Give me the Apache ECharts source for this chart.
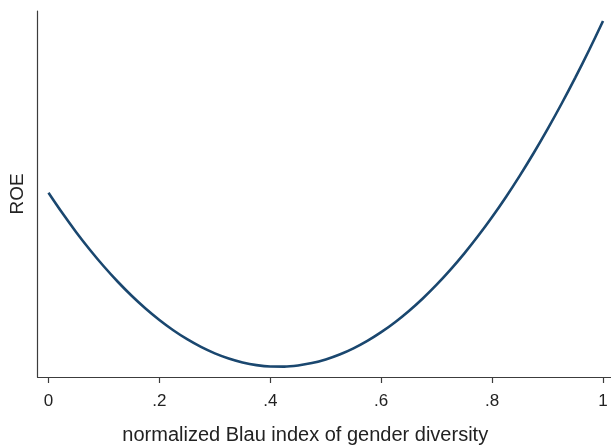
<!DOCTYPE html>
<html>
<head>
<meta charset="utf-8">
<script src="https://cdn.jsdelivr.net/npm/echarts@6/dist/echarts.min.js"></script>
<style>
  html, body { margin: 0; padding: 0; background: #fff; }
  #chart { width: 611px; height: 448px; }
</style>
</head>
<body>
<div id="chart"></div>
<script>
// blau index (x) and fitted ROE (y axis has no scale, 0-100 units)
var blau = [0, 0.025, 0.05, 0.075, 0.1, 0.125, 0.15, 0.175, 0.2, 0.225, 0.25,
  0.275, 0.3, 0.325, 0.35, 0.375, 0.4, 0.425, 0.45, 0.475, 0.5,
  0.525, 0.55, 0.575, 0.6, 0.625, 0.65, 0.675, 0.7, 0.725, 0.75,
  0.775, 0.8, 0.825, 0.85, 0.875, 0.9, 0.925, 0.95, 0.975, 1]
var roe = [50.34, 44.78, 39.57, 34.71, 30.19, 26.02, 22.19, 18.71, 15.57, 12.77, 10.32,
  8.22, 6.46, 5.05, 3.98, 3.25, 2.87, 2.84, 3.15, 3.80, 4.80,
  6.15, 7.84, 9.87, 12.25, 14.98, 18.05, 21.46, 25.22, 29.33, 33.78,
  38.57, 43.71, 49.20, 55.03, 61.20, 67.72, 74.59, 81.80, 89.35, 97.25]
var xTicks = [0, 0.2, 0.4, 0.6, 0.8, 1]

var axisColor = '#3c3c3c'
var textFont = 'Liberation Sans, Arial, sans-serif'

var points = blau.map(function (x, i) { return [x, roe[i]] })

var myChart = echarts.init(document.getElementById('chart'))
var option = {
  backgroundColor: '#fff',
  animation: false,
  grid: {
    left: 37.5,
    right: 0,
    top: 11,
    bottom: 71,
    containLabel: false,
    outerBoundsMode: 'none'
  },
  xAxis: {
    type: 'value',
    min: -0.0198,
    max: 1.0144,
    name: 'normalized Blau index of gender diversity',
    nameLocation: 'middle',
    nameGap: 48,
    nameTextStyle: {
      color: '#222',
      fontSize: 20,
      fontFamily: textFont,
      padding: [0, 38, 0, 0]
    },
    axisLine: { show: true, onZero: false, lineStyle: { color: axisColor, width: 1.2 } },
    axisTick: {
      show: true,
      length: 6,
      customValues: xTicks,
      lineStyle: { color: axisColor, width: 1.2 }
    },
    axisLabel: {
      customValues: xTicks,
      margin: 16,
      color: '#222',
      fontSize: 17,
      fontFamily: textFont,
      formatter: function (v) {
        return String(v).replace(/^0\./, '.')
      }
    },
    splitLine: { show: false }
  },
  yAxis: {
    type: 'value',
    min: 0,
    max: 100,
    name: 'ROE',
    nameLocation: 'middle',
    nameGap: 10,
    nameRotate: 90,
    nameTextStyle: {
      color: '#222',
      fontSize: 19,
      fontFamily: textFont
    },
    axisLine: { show: true, onZero: false, lineStyle: { color: axisColor, width: 1.2 } },
    axisTick: { show: false },
    axisLabel: { show: false },
    splitLine: { show: false }
  },
  series: [
    {
      type: 'line',
      data: points,
      smooth: 0.3,
      showSymbol: false,
      lineStyle: { color: '#1a476f', width: 2.6 }
    }
  ]
}
myChart.setOption(option, true)
</script>
</body>
</html>
